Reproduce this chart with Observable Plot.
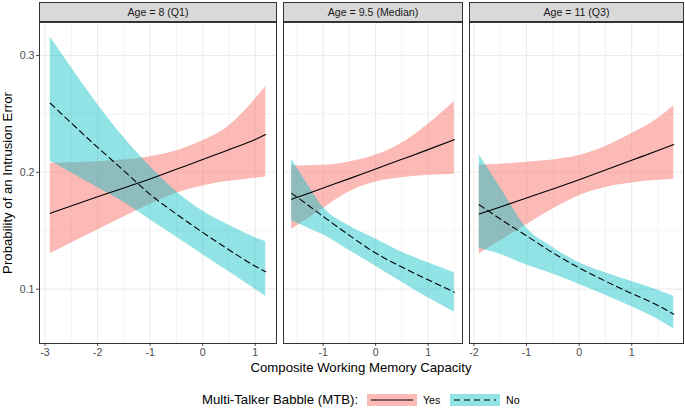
<!DOCTYPE html>
<html><head><meta charset="utf-8">
<script src="https://cdn.jsdelivr.net/npm/d3@7"></script>
<script src="https://cdn.jsdelivr.net/npm/@observablehq/plot@0.6"></script>
<style>
body{margin:0;background:#fff;font-family:"Liberation Sans",Arial,Helvetica,sans-serif;}
#chart{position:relative;width:685px;height:416px;overflow:hidden;background:#fff;}
.strip{position:absolute;top:2px;height:20px;box-sizing:border-box;border:1px solid #333;background:#D9D9D9;color:#1A1A1A;font-size:10.6px;text-align:center;line-height:18px;white-space:nowrap;}
.abs{position:absolute;white-space:nowrap;line-height:1;color:#000;}
.panel{position:absolute;top:21px;}
[aria-label$="tick label"]{fill:#4D4D4D;}
</style></head><body><div id="chart"></div>
<script>
// ---- data ----
const panelTitles = ["Age = 8 (Q1)", "Age = 9.5 (Median)", "Age = 11 (Q3)"];
const groups = ["Yes", "No"];
const legendTitle = "Multi-Talker Babble (MTB):";
const xTitle = "Composite Working Memory Capacity";
const yTitle = "Probability of an Intrusion Error";

const x1 = [-2.9, -2, -1.5, -1, -0.5, 0, 0.5, 1, 1.2];
const yesFit1 = [0.165, 0.179, 0.1866, 0.1943, 0.2026, 0.2109, 0.2194, 0.228, 0.2323];
const yesLo1 = [0.1303, 0.1506, 0.1617, 0.1726, 0.182, 0.1883, 0.1923, 0.1949, 0.196];
const yesHi1 = [0.2077, 0.2091, 0.2106, 0.2134, 0.2183, 0.2269, 0.2397, 0.2625, 0.2734];
const noFit1 = [0.2591, 0.2214, 0.2014, 0.1811, 0.1643, 0.1486, 0.1337, 0.1197, 0.1149];
const noLo1 = [0.2097, 0.187, 0.1743, 0.1594, 0.1446, 0.1297, 0.1149, 0.100, 0.094];
const noHi1 = [0.3157, 0.2583, 0.2297, 0.2049, 0.1834, 0.1669, 0.1546, 0.144, 0.1406];

const x2 = [-1.6, -1.3, -1, -0.5, 0, 0.5, 1, 1.5];
const yesFit2 = [0.1769, 0.1817, 0.1866, 0.1946, 0.2029, 0.2111, 0.2194, 0.228];
const yesLo2 = [0.1511, 0.1601, 0.1691, 0.1834, 0.1917, 0.1954, 0.1974, 0.1983];
const yesHi2 = [0.2054, 0.2056, 0.206, 0.2089, 0.2146, 0.2249, 0.2411, 0.2606];
const noFit2 = [0.182, 0.1723, 0.1623, 0.146, 0.1309, 0.1189, 0.108, 0.0974];
const noLo2 = [0.1586, 0.1526, 0.1466, 0.1331, 0.1197, 0.106, 0.0926, 0.0803];
const noHi2 = [0.2111, 0.190, 0.170, 0.154, 0.1429, 0.1317, 0.1226, 0.114];

const x3 = [-1.9, -1.5, -1, -0.5, 0, 0.5, 1, 1.5, 1.8];
const yesFit3 = [0.1643, 0.1703, 0.178, 0.1857, 0.1937, 0.202, 0.2103, 0.2186, 0.2237];
const yesLo3 = [0.13, 0.1414, 0.1551, 0.1686, 0.18, 0.1871, 0.1909, 0.1931, 0.194];
const yesHi3 = [0.206, 0.2069, 0.2086, 0.2106, 0.2143, 0.222, 0.2331, 0.246, 0.2569];
const noFit3 = [0.1723, 0.16, 0.1457, 0.1311, 0.1183, 0.1069, 0.0963, 0.086, 0.0786];
const noLo3 = [0.1351, 0.1298, 0.1206, 0.1129, 0.104, 0.0949, 0.0849, 0.074, 0.066];
const noHi3 = [0.2151, 0.1871, 0.1523, 0.1357, 0.1226, 0.114, 0.1066, 0.099, 0.094];

const xTicks1 = [-3, -2, -1, 0, 1];
const xTicks2 = [-1, 0, 1];
const xTicks3 = [-2, -1, 0, 1];
const yTicks = [0.1, 0.2, 0.3];
const yMinorTicks = [0.15, 0.25];

// ---- assembly ----
const colors = {Yes: "#F8766D", No: "#00BFC4"};
const alphas = {Yes: 0.5, No: 0.43};
const font = '"Liberation Sans",Arial,Helvetica,sans-serif';
const panels = [
  {title: panelTitles[0], x: x1, yesFit: yesFit1, yesLo: yesLo1, yesHi: yesHi1, noFit: noFit1, noLo: noLo1, noHi: noHi1, ticks: xTicks1},
  {title: panelTitles[1], x: x2, yesFit: yesFit2, yesLo: yesLo2, yesHi: yesHi2, noFit: noFit2, noLo: noLo2, noHi: noHi2, ticks: xTicks2},
  {title: panelTitles[2], x: x3, yesFit: yesFit3, yesLo: yesLo3, yesHi: yesHi3, noFit: noFit3, noLo: noLo3, noHi: noHi3, ticks: xTicks3}
];
function expand([a, b], f = 0.05) { const d = (b - a) * f; return [a - d, b + d]; }
const allLo = d3.min(panels, p => d3.min([...p.yesLo, ...p.noLo]));
const allHi = d3.max(panels, p => d3.max([...p.yesHi, ...p.noHi]));
const yDomain = expand([allLo, allHi]);
panels.forEach(p => { p.domain = expand(d3.extent(p.x)); p.span = p.domain[1] - p.domain[0]; });

const chart = document.getElementById("chart");
const left0 = 39, right0 = 683, gap = 7.3;
const unit = (right0 - left0 - 2 * gap) / d3.sum(panels, p => p.span);
let cursor = left0;
panels.forEach((p, i) => {
  p.left = Math.round(cursor);
  p.width = Math.round(cursor + p.span * unit) - p.left;
  cursor += p.span * unit + gap;
});

panels.forEach((p, i) => {
  const rows = [];
  p.x.forEach((x, j) => {
    rows.push({x, g: "Yes", fit: p.yesFit[j], lo: p.yesLo[j], hi: p.yesHi[j]});
  });
  p.x.forEach((x, j) => {
    rows.push({x, g: "No", fit: p.noFit[j], lo: p.noLo[j], hi: p.noHi[j]});
  });
  const xMinor = d3.range(Math.ceil(p.domain[0] * 2) / 2, p.domain[1], 0.5).filter(v => !p.ticks.includes(v));
  const ml = i === 0 ? 39 : 1;
  const svg = Plot.plot({
    width: ml + p.width + 1,
    height: 342,
    marginLeft: ml, marginRight: 1, marginTop: 1, marginBottom: 20,
    style: {background: "transparent", color: "#4D4D4D", fontSize: "10.6px", fontFamily: font, overflow: "visible"},
    x: {domain: p.domain, ticks: p.ticks, tickFormat: d => String(d), tickSize: 3, tickPadding: 2, label: null},
    y: {domain: yDomain, ticks: yTicks, axis: i === 0 ? "left" : null, tickFormat: d3.format(".1f"), tickSize: 3, tickPadding: 2, label: null},
    marks: [
      Plot.ruleY(yMinorTicks, {stroke: "#EBEBEB", strokeWidth: 0.6}),
      Plot.ruleX(xMinor, {stroke: "#EBEBEB", strokeWidth: 0.6}),
      Plot.ruleY(yTicks, {stroke: "#EBEBEB", strokeWidth: 1.1}),
      Plot.ruleX(p.ticks, {stroke: "#EBEBEB", strokeWidth: 1.1}),
      Plot.areaY(rows.filter(r => r.g === "Yes"), {x: "x", y1: "lo", y2: "hi", fill: colors.Yes, fillOpacity: alphas.Yes, curve: "monotone-x"}),
      Plot.areaY(rows.filter(r => r.g === "No"), {x: "x", y1: "lo", y2: "hi", fill: colors.No, fillOpacity: alphas.No, curve: "monotone-x"}),
      Plot.lineY(rows.filter(r => r.g === "Yes"), {x: "x", y: "fit", stroke: "#000", strokeWidth: 1.1, curve: "monotone-x"}),
      Plot.lineY(rows.filter(r => r.g === "No"), {x: "x", y: "fit", stroke: "#000", strokeWidth: 1.1, strokeDasharray: "6,4", curve: "monotone-x"}),
      Plot.frame({stroke: "#333333", strokeWidth: 1})
    ]
  });
  svg.classList.add("panel");
  svg.style.position = "absolute";
  svg.style.left = (p.left - ml) + "px";
  svg.style.top = "21px";
  chart.appendChild(svg);

  const strip = document.createElement("div");
  strip.className = "strip";
  strip.style.left = p.left + "px";
  strip.style.width = (p.width + 1) + "px";
  strip.textContent = p.title;
  chart.appendChild(strip);
});

// axis titles
const yt = document.createElement("div");
yt.className = "abs";
yt.style.cssText += "left:8px;top:182.5px;font-size:13.2px;transform:translate(-50%,-50%) rotate(-90deg);";
yt.textContent = yTitle;
chart.appendChild(yt);

const xt = document.createElement("div");
xt.className = "abs";
xt.style.cssText += "left:361px;top:368px;font-size:13.2px;transform:translate(-50%,-50%);";
xt.textContent = xTitle;
chart.appendChild(xt);

// legend
const lt = document.createElement("div");
lt.className = "abs";
lt.style.cssText += "left:202px;top:399.5px;font-size:13.2px;transform:translateY(-50%);";
lt.textContent = legendTitle;
chart.appendChild(lt);

const keyLefts = {Yes: 367, No: 450};
groups.forEach(g => {
  const ns = "http://www.w3.org/2000/svg";
  const k = document.createElementNS(ns, "svg");
  k.setAttribute("width", 50); k.setAttribute("height", 12);
  k.style.cssText = `position:absolute;left:${keyLefts[g]}px;top:394px;`;
  const r = document.createElementNS(ns, "rect");
  r.setAttribute("width", 50); r.setAttribute("height", 12);
  r.setAttribute("fill", colors[g]); r.setAttribute("fill-opacity", alphas[g]);
  k.appendChild(r);
  const l = document.createElementNS(ns, "line");
  l.setAttribute("x1", 4); l.setAttribute("x2", 46); l.setAttribute("y1", 6); l.setAttribute("y2", 6);
  l.setAttribute("stroke", "#000"); l.setAttribute("stroke-width", 1.1);
  if (g === "No") l.setAttribute("stroke-dasharray", "6,4");
  k.appendChild(l);
  chart.appendChild(k);
  const t = document.createElement("div");
  t.className = "abs";
  t.style.cssText += `left:${keyLefts[g] + 56}px;top:400px;font-size:10.6px;transform:translateY(-50%);`;
  t.textContent = g;
  chart.appendChild(t);
});
</script>
</body></html>
